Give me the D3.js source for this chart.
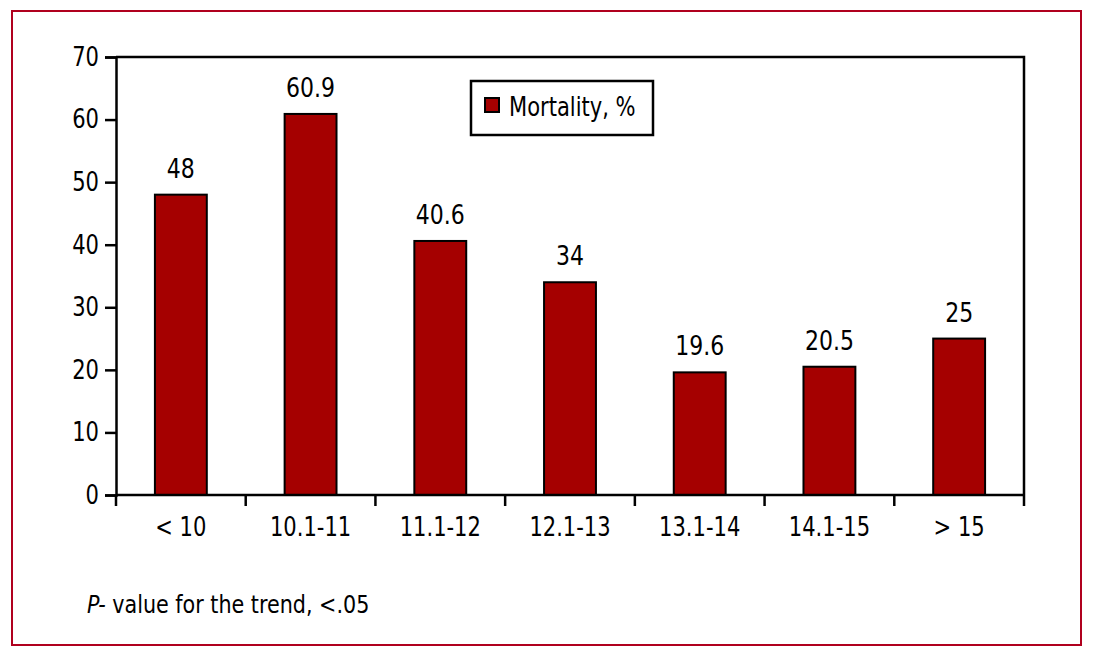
<!DOCTYPE html>
<html>
<head>
<meta charset="utf-8">
<script src="https://d3js.org/d3.v7.min.js"></script>
<style>
  body { margin: 0; background: #fff; }
  svg text { font-family: "Liberation Sans Narrow", "DejaVu Sans", sans-serif; font-stretch: condensed; fill: #000; }
</style>
</head>
<body>
<script>
// data
var categories = ["< 10", "10.1-11", "11.1-12", "12.1-13", "13.1-14", "14.1-15", "> 15"];
var mortality = [48, 60.9, 40.6, 34, 19.6, 20.5, 25];
var valueLabels = ["48", "60.9", "40.6", "34", "19.6", "20.5", "25"];
var yTicks = [0, 10, 20, 30, 40, 50, 60, 70];

var W = 1093, H = 654;
var pLeft = 116, pRight = 1024, pTop = 57, pBottom = 495;

// narrow the text a bit horizontally (reference font is tall and condensed)
function squeeze(sel, k) {
  sel.each(function() {
    var t = d3.select(this);
    var x0 = +t.attr("x") || 0;
    t.attr("x", x0 / k).attr("transform", "scale(" + k + ",1)");
  });
}

var svg = d3.select("body").append("svg")
  .attr("width", W).attr("height", H);

// outer red frame
svg.append("rect")
  .attr("x", 12).attr("y", 11)
  .attr("width", 1069).attr("height", 634)
  .attr("fill", "none").attr("stroke", "#b0001e").attr("stroke-width", 2);

var x = d3.scaleBand().domain(categories).range([pLeft, pRight]).paddingInner(0.6).paddingOuter(0.3);
var y = d3.scaleLinear().domain([0, 70]).range([pBottom, pTop]);

// plot box (top and right sides)
svg.append("path")
  .attr("d", "M" + pLeft + "," + pTop + "H" + pRight + "V" + pBottom)
  .attr("fill", "none").attr("stroke", "#000").attr("stroke-width", 2.5);

// bars
svg.selectAll("rect.bar")
  .data(mortality)
  .enter().append("rect")
  .attr("class", "bar")
  .attr("x", function(d, i) { return x(categories[i]); })
  .attr("width", x.bandwidth())
  .attr("y", function(d) { return y(d); })
  .attr("height", function(d) { return y(0) - y(d); })
  .attr("fill", "#a50000")
  .attr("stroke", "#000").attr("stroke-width", 2);

// value labels
var vals = svg.selectAll("text.val")
  .data(mortality)
  .enter().append("text")
  .attr("class", "val")
  .attr("x", function(d, i) { return x(categories[i]) + x.bandwidth() / 2; })
  .attr("y", function(d) { return y(d) - 17; })
  .attr("text-anchor", "middle")
  .style("font-size", "26px")
  .text(function(d, i) { return valueLabels[i]; });
squeeze(vals, 0.94);

// y axis
var yAxis = svg.append("g")
  .attr("transform", "translate(" + pLeft + ",0)")
  .call(d3.axisLeft(y).tickValues(yTicks).tickSize(11).tickPadding(6));
yAxis.selectAll("line, path").attr("stroke", "#000").attr("stroke-width", 2.5);
yAxis.selectAll("text").style("font-size", "26px");
squeeze(yAxis.selectAll("text"), 0.9);

// x axis: ticks between categories
var xAxisG = svg.append("g");
xAxisG.append("line")
  .attr("x1", pLeft).attr("x2", pRight)
  .attr("y1", pBottom).attr("y2", pBottom)
  .attr("stroke", "#000").attr("stroke-width", 2.5);
var edges = d3.range(categories.length + 1).map(function(i) { return pLeft + i * (pRight - pLeft) / categories.length; });
xAxisG.selectAll("line.tick")
  .data(edges)
  .enter().append("line")
  .attr("class", "tick")
  .attr("x1", function(d) { return d; }).attr("x2", function(d) { return d; })
  .attr("y1", pBottom).attr("y2", pBottom + 11)
  .attr("stroke", "#000").attr("stroke-width", 2.5);
var catLabels = xAxisG.selectAll("text")
  .data(categories)
  .enter().append("text")
  .attr("x", function(d) { return x(d) + x.bandwidth() / 2; })
  .attr("y", 536)
  .attr("text-anchor", "middle")
  .style("font-size", "26px")
  .text(function(d) { return d; });
squeeze(catLabels, 0.9);

// legend
var lg = svg.append("g");
lg.append("rect")
  .attr("x", 471).attr("y", 81).attr("width", 182).attr("height", 54)
  .attr("fill", "#fff").attr("stroke", "#000").attr("stroke-width", 2.5);
lg.append("rect")
  .attr("x", 485).attr("y", 98).attr("width", 14).attr("height", 14)
  .attr("fill", "#a50000").attr("stroke", "#000").attr("stroke-width", 2);
var lgText = lg.append("text")
  .attr("x", 509).attr("y", 116)
  .style("font-size", "26px")
  .text("Mortality, %");
squeeze(lgText, 0.9);

// footnote
var fn = svg.append("text")
  .attr("x", 87).attr("y", 613)
  .style("font-size", "25px");
fn.append("tspan").style("font-style", "italic").text("P-");
fn.append("tspan").text(" value for the trend, <.05");
squeeze(fn, 0.92);
</script>
</body>
</html>
